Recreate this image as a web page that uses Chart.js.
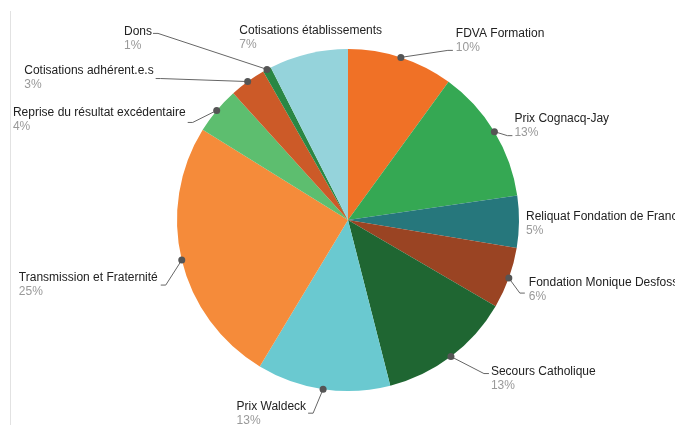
<!DOCTYPE html>
<html>
<head>
<meta charset="utf-8">
<script src="https://cdn.jsdelivr.net/npm/chart.js@4"></script>
<style>
  body { margin: 0; background: #fff; }
  #wrap { width: 675px; height: 425px; }
</style>
</head>
<body>
<div id="wrap"><canvas id="pieChart" width="675" height="425"></canvas></div>
<script>
// === DATA ===
const categories = [
  "FDVA Formation",
  "Prix Cognacq-Jay",
  "Reliquat Fondation de France",
  "Fondation Monique Desfossés",
  "Secours Catholique",
  "Prix Waldeck",
  "Transmission et Fraternité",
  "Reprise du résultat excédentaire",
  "Cotisations adhérent.e.s",
  "Dons",
  "Cotisations établissements"
];
const values = [10.0, 12.7, 4.9, 5.8, 12.6, 12.6, 25.2, 4.45, 3.45, 0.8, 7.45];
const colors = [
  "#F07126", "#35A853", "#26777C", "#9A4423", "#1F6632", "#6AC9D0",
  "#F58B3A", "#5DBE6F", "#CC5A28", "#2A8744", "#95D3DB"
];

// label layout: line end offset from dot, text offset from line end, alignment
// line:false -> no leader, text placed at dot + offset
const labelLayout = [
  { dx: 52,   dy: -7,  tx: 3,  ty: -17, align: "left",  line: true },
  { dx: 18,   dy: 4,   tx: 2,  ty: -17, align: "left",  line: true },
  { dx: 7,    dy: -5,  tx: 0,  ty: 0,   align: "left",  line: false },
  { dx: 16,   dy: 15,  tx: 4,  ty: -10, align: "left",  line: true },
  { dx: 38,   dy: 17,  tx: 2,  ty: -2,  align: "left",  line: true },
  { dx: -15,  dy: 24,  tx: -2, ty: -6,  align: "right", line: true },
  { dx: -21,  dy: 25,  tx: -3, ty: -7,  align: "right", line: true },
  { dx: -29,  dy: 12,  tx: -2, ty: -10, align: "right", line: true },
  { dx: -92,  dy: -3,  tx: -2, ty: -8,  align: "right", line: true },
  { dx: -114, dy: -36, tx: -1, ty: -2,  align: "right", line: true },
  { dx: -69,  dy: -23, tx: 0,  ty: 0,   align: "left",  line: false }
];

const total = values.reduce((a, b) => a + b, 0);

// === LABEL PLUGIN ===
const outsideLabels = {
  id: "outsideLabels",
  beforeDraw(chart) {
    const ctx = chart.ctx;
    ctx.save();
    ctx.strokeStyle = "#e2e2e2";
    ctx.lineWidth = 1;
    ctx.beginPath();
    ctx.moveTo(10.5, 11);
    ctx.lineTo(10.5, 425);
    ctx.stroke();
    ctx.restore();
  },
  afterDraw(chart) {
    const ctx = chart.ctx;
    const arcs = chart.getDatasetMeta(0).data;
    ctx.save();
    ctx.font = "12px 'Liberation Sans', Arial, sans-serif";
    ctx.textBaseline = "middle";
    arcs.forEach((arc, i) => {
      const mid = (arc.startAngle + arc.endAngle) / 2;
      const px = arc.x + Math.cos(mid) * arc.outerRadius;
      const py = arc.y + Math.sin(mid) * arc.outerRadius;
      const L = labelLayout[i];
      const ex = px + L.dx, ey = py + L.dy;
      let tx, ty;
      if (L.line) {
        // short horizontal run next to the text, then diagonal to the dot
        const elbow = L.align === "left" ? ex - 5 : ex + 5;
        ctx.strokeStyle = "#666";
        ctx.lineWidth = 1;
        ctx.beginPath();
        ctx.moveTo(px, py);
        ctx.lineTo(elbow, ey);
        ctx.lineTo(ex, ey);
        ctx.stroke();
        ctx.fillStyle = "#555";
        ctx.beginPath();
        ctx.arc(px, py, 3.5, 0, Math.PI * 2);
        ctx.fill();
        tx = ex + L.tx;
        ty = ey + L.ty;
      } else {
        tx = ex;
        ty = ey;
      }
      ctx.textAlign = L.align;
      ctx.fillStyle = "#222";
      ctx.fillText(categories[i], tx, ty);
      ctx.fillStyle = "#999";
      const pct = Math.round(values[i] / total * 100) + "%";
      if (L.align === "right") {
        ctx.textAlign = "left";
        const w = ctx.measureText(categories[i]).width;
        ctx.fillText(pct, tx - w, ty + 14);
      } else {
        ctx.fillText(pct, tx, ty + 14);
      }
    });
    ctx.restore();
  }
};

// === CHART SETUP ===
let pieChart = new Chart(document.getElementById("pieChart"), {
  type: 'pie',
  data: {
    labels: categories,
    datasets: [{
      data: values,
      backgroundColor: colors,
      borderWidth: 0
    }]
  },
  options: {
    responsive: false,
    animation: false,
    layout: { padding: { left: 177, right: 156, top: 49, bottom: 34 } },
    plugins: {
      legend: { display: false },
      tooltip: { enabled: false }
    }
  },
  plugins: [outsideLabels]
});
</script>
</body>
</html>
